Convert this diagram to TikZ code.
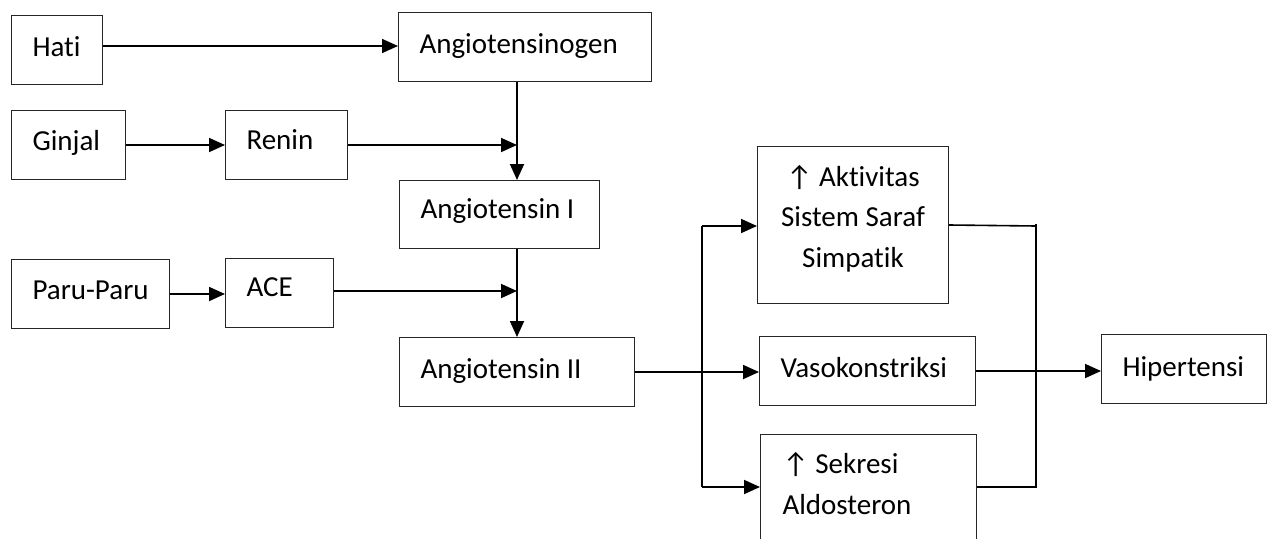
\documentclass[tikz,border=0pt]{standalone}
\usepackage{fontspec}
\setmainfont[Ligatures={NoCommon}]{Carlito}
\usetikzlibrary{arrows.meta}
\begin{document}
\begin{tikzpicture}[x=1pt,y=-1pt,
  every node/.style={font=\fontsize{29}{40.5}\selectfont},
  box/.style={draw=black!85, line width=1pt, rectangle, anchor=north west,
    inner ysep=0pt, inner xsep=21pt, align=flush left,
    text height=23pt, text depth=11pt},
  arr/.style={line width=1.8pt, -{Triangle[length=16pt,width=14pt]}},
  link/.style={line width=1.6pt}
]
\useasboundingbox (0,0) rectangle (1274,538);
\clip (0,0) rectangle (1274,538);

% nodes
\node[box, text width=49pt,  minimum height=69pt] (hati)   at (11,15)  {Hati};
\node[box, text width=72pt,  minimum height=69pt, text height=22pt, text depth=12pt] (ginjal) at (11,110) {Ginjal};
\node[box, text width=80pt,  minimum height=69pt, text height=21pt, text depth=12pt] (renin)  at (225,110) {Renin};
\node[box, text width=211pt, minimum height=69pt] (angen)  at (398,12) {Angiotensinogen};
\node[box, text width=158pt, minimum height=68pt, text height=21pt, text depth=13pt] (ang1) at (399,180) {Angiotensin I};
\node[box, text width=116pt, minimum height=69pt, text height=22pt, text depth=12pt] (paru) at (11,259) {\mbox{Paru-Paru}};
\node[box, text width=66pt,  minimum height=69pt, text height=20pt, text depth=13pt] (ace) at (225,258) {ACE};
\node[box, text width=193pt, minimum height=69pt] (ang2)   at (399,337) {Angiotensin II};
\node[box, inner xsep=10pt, text width=171pt, minimum height=157pt, align=flush center,
      text height=22pt, text depth=100pt] (akt) at (757,146) {↑ Aktivitas\\Sistem Saraf\\Simpatik};
\node[box, text width=174pt, minimum height=69pt] (vaso)   at (759,336) {Vasokonstriksi};
\node[box, inner xsep=22pt, text width=172pt, minimum height=150pt,
      font=\fontsize{29}{41}\selectfont, text height=22pt, text depth=95pt] (sek) at (760,434) {↑ Sekresi\\Aldosteron};
\node[box, text width=123pt, minimum height=69pt, text height=23pt, text depth=9pt] (hip) at (1101,334) {Hipertensi};

% junction coordinates
\coordinate (j) at (517,0);
\coordinate (bt) at (702,226);
\coordinate (bb) at (702,487);
\coordinate (rt) at (1036,224);
\coordinate (rb) at (1036,487);

% connectors
\draw[arr, line width=1.5pt] (hati.east |- 0,46) -- (angen.west |- 0,46);
\draw[arr] (ginjal.east) -- (renin.west |- ginjal.east);
\draw[arr] (renin.east) -- (renin.east -| j);
\draw[arr] (angen.south -| j) -- (ang1.north -| j);
\draw[arr] (paru.east) -- (ace.west |- paru.east);
\draw[arr] (ace.east |- 0,291) -- (j |- 0,291);
\draw[arr] (ang1.south -| j) -- (ang2.north -| j);
\draw[arr] (ang2.east) -- (vaso.west |- ang2.east);
\draw[link] (bt) -- (bb);
\draw[arr] (bt) -- (akt.west |- bt);
\draw[arr] (bb) -- (sek.west |- bb);
\draw[link] (akt.east |- 0,225) -- (1036,226);
\draw[link] (rt) -- (rb) -- (sek.east |- rb);
\draw[arr] (vaso.east) -- (hip.west |- vaso.east);
\end{tikzpicture}
\end{document}
